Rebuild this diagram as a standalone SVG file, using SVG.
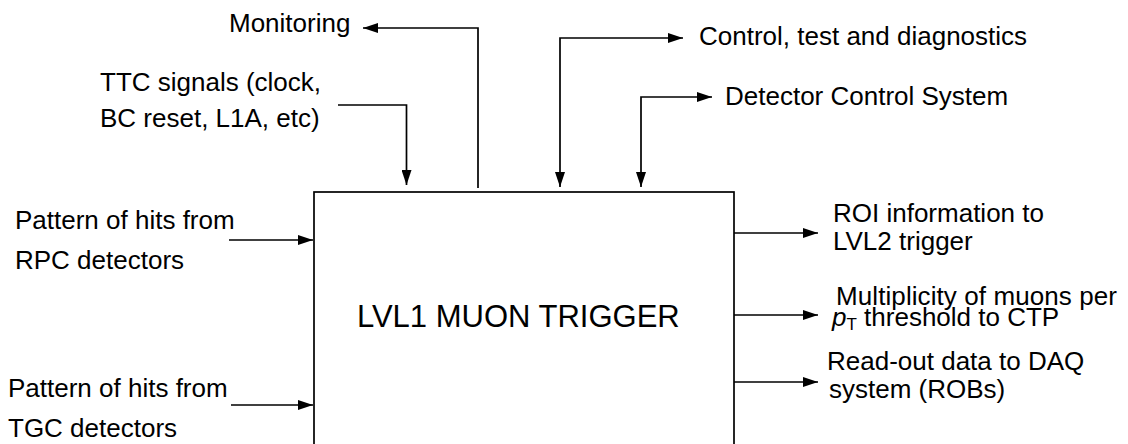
<svg xmlns="http://www.w3.org/2000/svg" width="1128" height="444" viewBox="0 0 1128 444">
<defs>
<style>
text{font-family:"Liberation Sans",Arial,sans-serif;font-size:26px;fill:#000}
.ln{fill:none;stroke:#000;stroke-width:1.7}
.box{fill:#fff;stroke:#000;stroke-width:1.7}
</style>
<marker id="ah" markerUnits="userSpaceOnUse" markerWidth="16" markerHeight="10" refX="15" refY="5" orient="auto-start-reverse" viewBox="0 0 16 10">
<path d="M0,0 L15,5 L0,10 z" fill="#000"/>
</marker>
</defs>
<rect width="1128" height="444" fill="#fff"/>
<g id="trigger">
<rect class="box" x="314" y="192" width="420" height="270"/>
<text x="357" y="327" style="font-size:31px">LVL1 MUON TRIGGER</text>
</g>
<g id="monitoring"><text x="229" y="32">Monitoring</text></g>
<g id="ttc"><text x="100" y="91">TTC signals (clock,</text><text x="100" y="127">BC reset, L1A, etc)</text></g>
<g id="control"><text x="699" y="45">Control, test and diagnostics</text></g>
<g id="dcs"><text x="725" y="105">Detector Control System</text></g>
<g id="rpc"><text x="15" y="229">Pattern of hits from</text><text x="15" y="269">RPC detectors</text></g>
<g id="tgc"><text x="8" y="397">Pattern of hits from</text><text x="8" y="437">TGC detectors</text></g>
<g id="roi"><text x="833" y="222">ROI information to</text><text x="833" y="250">LVL2 trigger</text></g>
<g id="ctp"><text x="836" y="305" textLength="281">Multiplicity of muons per</text><text x="832" y="326"><tspan font-style="italic">p</tspan><tspan font-size="17" dy="4">T</tspan><tspan dy="-4"> threshold to CTP</tspan></text></g>
<g id="daq"><text x="827" y="370">Read-out data to DAQ</text><text x="829" y="398">system (ROBs)</text></g>
<g id="connectors">
<path class="ln" d="M338,105 H406.5 V185" marker-end="url(#ah)"/>
<path class="ln" d="M478,188 V28 H363" marker-end="url(#ah)"/>
<path class="ln" d="M683,38 H560 V187" marker-start="url(#ah)" marker-end="url(#ah)"/>
<path class="ln" d="M712,97 H641 V187" marker-start="url(#ah)" marker-end="url(#ah)"/>
<path class="ln" d="M229,240 H313" marker-end="url(#ah)"/>
<path class="ln" d="M231,405 H313" marker-end="url(#ah)"/>
<path class="ln" d="M734,233 H818" marker-end="url(#ah)"/>
<path class="ln" d="M734,315 H818" marker-end="url(#ah)"/>
<path class="ln" d="M734,382 H818" marker-end="url(#ah)"/>
</g>
</svg>
